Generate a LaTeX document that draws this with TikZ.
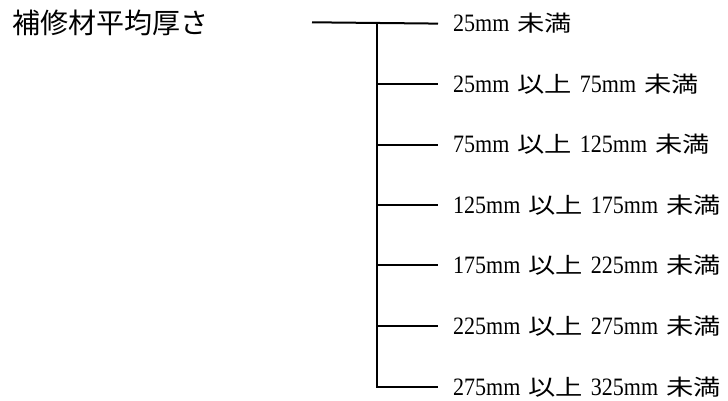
\documentclass[tikz,border=0pt]{standalone}
\usepackage{fontspec}
\setmainfont[FakeStretch=0.88,WordSpace=1.45]{Liberation Serif}
\newfontfamily\cjk{Noto Sans CJK JP}
\newfontfamily\cjkw[FakeStretch=1.24]{Noto Sans CJK JP}
\newcommand{\jl}[1]{{\cjkw\fontsize{22}{22}\selectfont #1}}
\begin{document}
\begin{tikzpicture}[x=1pt,y=-1pt,
  conn/.style={draw=black, line width=2pt},
  leaf/.style={anchor=west, inner xsep=15pt, inner ysep=0pt, font=\fontsize{25}{25}\selectfont},
  heading/.style={anchor=west, inner sep=0pt, font=\cjk\fontsize{28}{28}\selectfont}]
\useasboundingbox (0,0) rectangle (728,401);
\node[heading] (t) at (12.5,22.5) {補修材平均厚さ};
\coordinate (root) at (312,22.3);
\coordinate (j) at (376.7,22.3);
\node[leaf] (l1) at (438,23.6) {25mm \jl{未満}};
\node[leaf] (l2) at (438,84) {25mm \jl{以上} 75mm \jl{未満}};
\node[leaf] (l3) at (438,144.6) {75mm \jl{以上} 125mm \jl{未満}};
\node[leaf] (l4) at (438,205.3) {125mm \jl{以上} 175mm \jl{未満}};
\node[leaf] (l5) at (438,265.3) {175mm \jl{以上} 225mm \jl{未満}};
\node[leaf] (l6) at (438,326.3) {225mm \jl{以上} 275mm \jl{未満}};
\node[leaf] (l7) at (438,387) {275mm \jl{以上} 325mm \jl{未満}};
\path[conn] (root) -- (l1.west);
\path[conn] (j) -- (j|-l7.west) -- (l7.west);
\foreach \n in {l2,l3,l4,l5,l6} {
  \path[conn] (j|-\n.west) -- (\n.west);
}
\end{tikzpicture}
\end{document}
